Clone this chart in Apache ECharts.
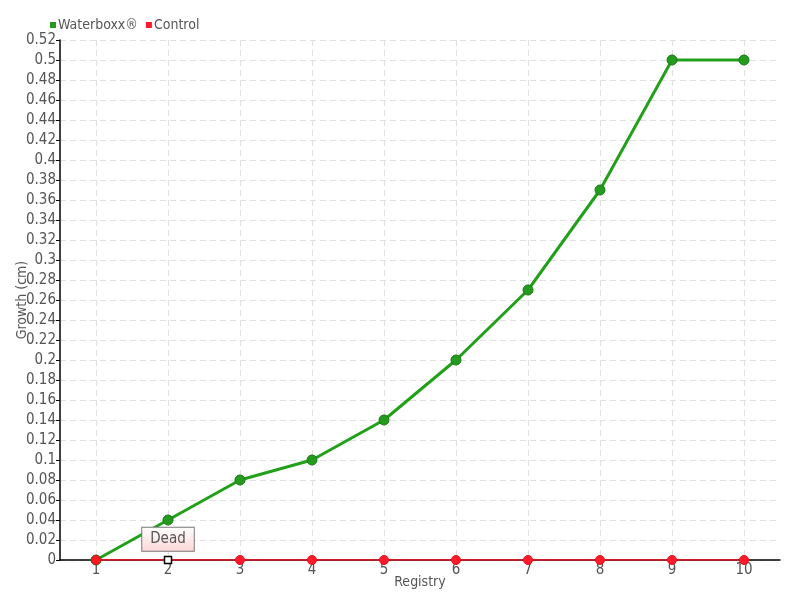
<!DOCTYPE html>
<html><head><meta charset="utf-8">
<script src="https://cdn.jsdelivr.net/npm/echarts@6/dist/echarts.min.js"></script>
<style>html,body{margin:0;padding:0;background:#fff}#c{width:800px;height:600px}</style>
</head><body><div id="c"></div>
<script>
const categories = ['1','2','3','4','5','6','7','8','9','10'];
const waterboxx = [0, 0.04, 0.08, 0.1, 0.14, 0.2, 0.27, 0.37, 0.5, 0.5];
const control = [0, 0, 0, 0, 0, 0, 0, 0, 0, 0];
const deadIndex = 1;
const deadLabel = 'Dead';
const font = '"DejaVu Sans Condensed", "Liberation Sans Narrow", sans-serif';

const controlData = control.map((v, i) => i === deadIndex ? {
  value: v, symbol: 'rect', symbolSize: 7,
  itemStyle: {color: '#fff', borderColor: '#000', borderWidth: 1.5},
  label: {show: true, position: 'top', distance: 5, formatter: deadLabel,
    color: '#555', fontSize: 15, fontFamily: font,
    backgroundColor: {type: 'linear', x: 0, y: 0, x2: 0, y2: 1,
      colorStops: [{offset: 0, color: '#ffffff'}, {offset: 1, color: '#fbd6d6'}]},
    borderColor: '#777', borderWidth: 1, padding: [4, 8, 4, 8]}
} : v);

const chart = echarts.init(document.getElementById('c'));
chart.setOption({
  animation: false,
  textStyle: {fontFamily: font},
  legend: {left: 45, top: 13, itemWidth: 6, itemHeight: 6, itemGap: 8, icon: 'rect',
    itemStyle: {borderWidth: 0},
    textStyle: {color: '#555', fontSize: 14, fontFamily: font, padding: [0, 0, 0, -3]},
    data: ['Waterboxx®', 'Control']},
  grid: {left: 60, right: 20, top: 40, bottom: 40, containLabel: false, outerBoundsMode: 'none'},
  xAxis: {type: 'category', data: categories, boundaryGap: true,
    name: 'Registry', nameLocation: 'middle', nameGap: 15, nameMoveOverlap: false,
    nameTextStyle: {color: '#555', fontSize: 14, fontFamily: font},
    axisLine: {lineStyle: {color: '#000', width: 1.5}},
    axisTick: {show: false},
    axisLabel: {color: '#555', fontSize: 15, margin: 3, fontFamily: font},
    splitLine: {show: true, alignWithLabel: true, lineStyle: {color: '#e0e0e0', type: [6, 4]}}},
  yAxis: {type: 'value', min: 0, max: 0.52, interval: 0.02,
    name: 'Growth (cm)', nameLocation: 'middle', nameGap: 31, nameMoveOverlap: false,
    nameTextStyle: {color: '#555', fontSize: 14, fontFamily: font},
    axisLine: {show: true, lineStyle: {color: '#000', width: 1.5}},
    axisTick: {show: true, inside: false, length: 4, lineStyle: {color: '#000'}},
    axisLabel: {color: '#555', fontSize: 15, margin: 4, fontFamily: font,
      formatter: v => String(+v.toFixed(2))},
    splitLine: {show: true, lineStyle: {color: '#e0e0e0', type: [6, 4]}}},
  series: [
    {name: 'Waterboxx®', type: 'line', data: waterboxx, symbol: 'circle', symbolSize: 10,
      color: '#22a01a',
      lineStyle: {color: '#22a01a', width: 3},
      itemStyle: {color: '#249a1e', borderColor: '#1a7a16', borderWidth: 1}},
    {name: 'Control', type: 'line', data: controlData, symbol: 'circle', symbolSize: 9,
      color: '#ff1020',
      lineStyle: {color: '#ff1020', width: 1.5},
      itemStyle: {color: '#ff1a2a', borderColor: '#e0101a', borderWidth: 1}}
  ]
});
</script></body></html>
